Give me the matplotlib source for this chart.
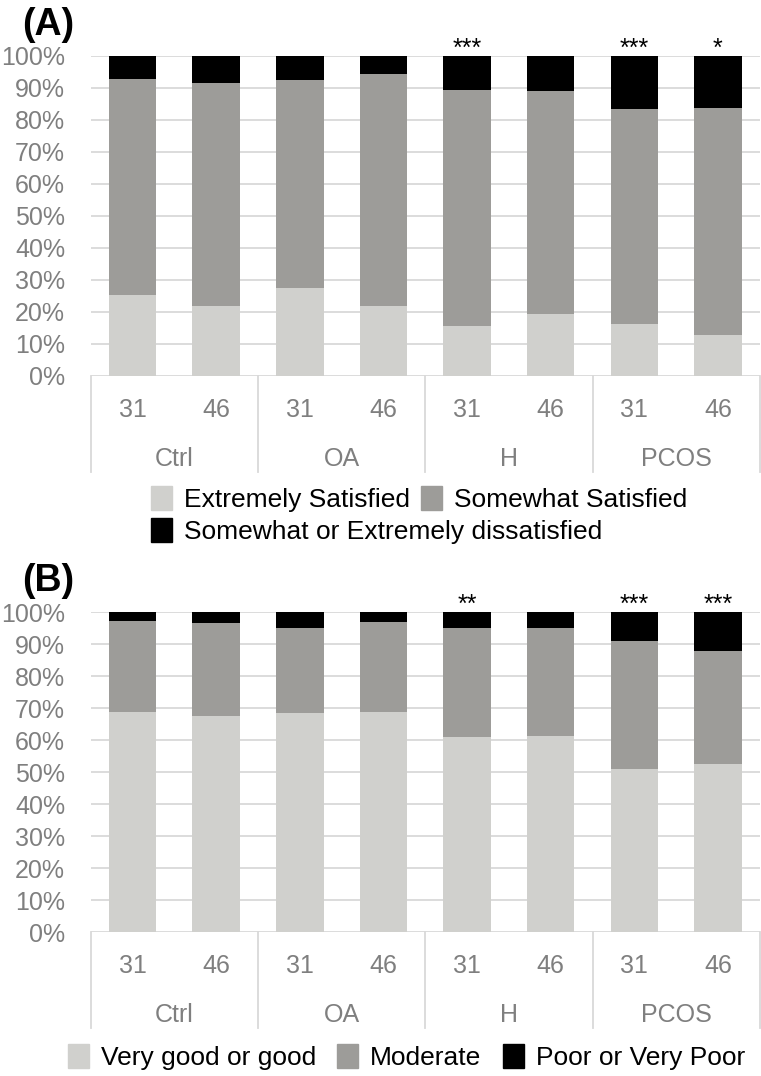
import matplotlib
matplotlib.use("Agg")
import matplotlib.pyplot as plt
from matplotlib.patches import Patch
from matplotlib.transforms import blended_transform_factory
from matplotlib.ticker import FuncFormatter

plt.rcParams["font.family"] = ["Liberation Sans", "DejaVu Sans"]

# categories
groups = ["Ctrl", "OA", "H", "PCOS"]
ages = ["31", "46", "31", "46", "31", "46", "31", "46"]

# panel A - satisfaction (%)
sat_extreme = [25.3, 21.9, 27.4, 21.9, 15.5, 19.3, 16.3, 12.7]
sat_somewhat = [67.6, 69.7, 65.1, 72.4, 74.0, 69.7, 67.1, 70.9]
sat_dissat = [7.1, 8.4, 7.5, 5.7, 10.5, 11.0, 16.6, 16.4]
stars_a = ["", "", "", "", "***", "", "***", "*"]
labels_a = ["Extremely Satisfied", "Somewhat Satisfied",
            "Somewhat or Extremely dissatisfied"]

# panel B - health (%)
hl_good = [68.8, 67.7, 68.5, 68.7, 61.1, 61.4, 50.9, 52.6]
hl_moderate = [28.5, 28.9, 26.5, 28.4, 34.1, 33.8, 40.1, 35.4]
hl_poor = [2.7, 3.4, 5.0, 2.9, 4.8, 4.8, 9.0, 12.0]
stars_b = ["", "", "", "", "**", "", "***", "***"]
labels_b = ["Very good or good", "Moderate", "Poor or Very Poor"]

colors = ["#d0d0cd", "#9d9c99", "#000000"]
grey_txt = "#7f7f7f"
grid_c = "#d9d9d9"

fig = plt.figure(figsize=(7.61, 10.76), dpi=100)
ax_a = fig.add_axes([0.1192, 0.6506, 0.8792, 0.2974])
ax_b = fig.add_axes([0.1192, 0.1338, 0.8792, 0.2971])


def draw(ax, series, stars):
    x = list(range(len(ages)))
    bottom = [0] * len(ages)
    for vals, c in zip(series, colors):
        ax.bar(x, vals, width=0.567, bottom=bottom, color=c, zorder=3)
        bottom = [b + v for b, v in zip(bottom, vals)]
    ax.set_xlim(-0.5, 7.5)
    ax.set_ylim(0, 100)
    ax.set_yticks(range(0, 101, 10))
    ax.yaxis.set_major_formatter(FuncFormatter(lambda v, p: f"{v:.0f}%"))
    ax.tick_params(axis="y", length=0, pad=18.5, labelsize=18, labelcolor=grey_txt)
    ax.set_xticks([])
    for s in ax.spines.values():
        s.set_visible(False)
    ax.yaxis.grid(True, color=grid_c, lw=1.3, zorder=0)
    ax.set_axisbelow(True)

    tr = blended_transform_factory(ax.transData, ax.transAxes)
    for i, a in enumerate(ages):
        ax.text(i, -0.1, a, transform=tr, ha="center", va="center_baseline",
                fontsize=18, color=grey_txt)
        if stars[i]:
            ax.text(i, 1.0, stars[i], transform=tr, ha="center", va="baseline",
                    fontsize=18, color="black")
    for k, g in enumerate(groups):
        ax.text(2 * k + 0.5, -0.253, g, transform=tr, ha="center",
                va="center_baseline", fontsize=18, color=grey_txt)
    for xs in [-0.5, 1.5, 3.5, 5.5, 7.5]:
        ax.plot([xs, xs], [0, -0.3], transform=tr, color=grid_c, lw=1.3,
                clip_on=False)


draw(ax_a, [sat_extreme, sat_somewhat, sat_dissat], stars_a)
draw(ax_b, [hl_good, hl_moderate, hl_poor], stars_b)

leg_kw = dict(frameon=False, fontsize=19, handlelength=0.8, handleheight=1.0,
              handletextpad=0.45, borderpad=0, borderaxespad=0, loc="center left")

h_a = [Patch(color=c) for c in colors]
leg1 = ax_a.legend(h_a[:2], labels_a[:2], ncol=2, columnspacing=0.4,
                   bbox_to_anchor=(151 / 761, 1 - 499 / 1076),
                   bbox_transform=fig.transFigure, **leg_kw)
ax_a.add_artist(leg1)
ax_a.legend(h_a[2:], labels_a[2:], bbox_to_anchor=(151 / 761, 1 - 531 / 1076),
            bbox_transform=fig.transFigure, **leg_kw)

h_b = [Patch(color=c) for c in colors]
ax_b.legend(h_b, labels_b, ncol=3, columnspacing=0.8,
            bbox_to_anchor=(68 / 761, 1 - 1057 / 1076),
            bbox_transform=fig.transFigure, **leg_kw)

fig.text(22 / 761, 1 - 35 / 1076, "(A)", fontsize=27, fontweight="bold", va="baseline")
fig.text(22 / 761, 1 - 591 / 1076, "(B)", fontsize=27, fontweight="bold", va="baseline")

fig.savefig("out.png", dpi=100)
